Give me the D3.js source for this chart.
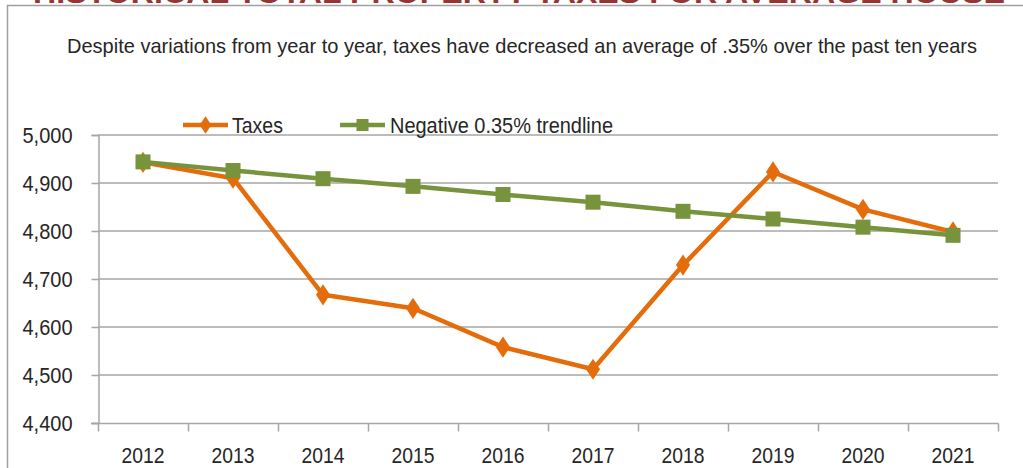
<!DOCTYPE html>
<html>
<head>
<meta charset="utf-8">
<script src="https://cdn.jsdelivr.net/npm/d3@7/dist/d3.min.js"></script>
<style>
  html, body { margin: 0; padding: 0; background: #ffffff; }
  svg { display: block; }
  text { font-family: "Liberation Sans", Arial, sans-serif; fill: #262626; }
</style>
</head>
<body>
<svg id="chart" width="1023" height="468"></svg>
<script>
// Chart data
const years = ["2012", "2013", "2014", "2015", "2016", "2017", "2018", "2019", "2020", "2021"];
const taxes = [4943, 4910, 4667, 4639, 4558, 4512, 4729, 4923, 4845, 4798];
const trendline = [4944, 4926, 4909, 4893, 4876, 4860, 4841, 4825, 4808, 4791];
const yTicks = [4400, 4500, 4600, 4700, 4800, 4900, 5000];
const seriesNames = ["Taxes", "Negative 0.35% trendline"];
const titleText = "HISTORICAL TOTAL PROPERTY TAXES FOR AVERAGE HOUSE";
const subtitleText = "Despite variations from year to year, taxes have decreased an average of .35% over the past ten years";

const orange = "#E46C0A";
const green = "#77933C";
const gridColor = "#a6a6a6";

const svg = d3.select("#chart");

// Banner title (sits above the chart frame)
svg.append("text")
  .attr("x", 33).attr("y", 3)
  .attr("textLength", 972).attr("lengthAdjust", "spacingAndGlyphs")
  .style("font-size", "30px").style("font-weight", "bold").style("fill", "#943634")
  .text(titleText);

// Chart frame
svg.append("path")
  .attr("d", "M7.5,468 V5.5 H1023")
  .attr("fill", "none").attr("stroke", "#a0a0a0").attr("stroke-width", 1.5);

// Subtitle (condensed to the frame width)
svg.append("text")
  .attr("x", 67).attr("y", 53)
  .attr("textLength", 910).attr("lengthAdjust", "spacingAndGlyphs")
  .style("font-size", "21px")
  .text(subtitleText);

// Scales
const x = d3.scaleBand().domain(years).range([98, 998]).padding(0);
const y = d3.scaleLinear().domain([4400, 5000]).range([423, 135]);
const cx = d => x(d) + x.bandwidth() / 2;

// Gridlines
svg.append("g")
  .selectAll("line")
  .data(yTicks.filter(t => t !== 4400))
  .join("line")
  .attr("x1", 98).attr("x2", 998)
  .attr("y1", d => y(d)).attr("y2", d => y(d))
  .attr("stroke", gridColor).attr("stroke-width", 1.5);

// Y axis
const yAxis = svg.append("g")
  .attr("transform", "translate(98.5,0)")
  .call(d3.axisLeft(y).tickValues(yTicks).tickFormat(d3.format(",")).tickSize(7).tickPadding(19));
yAxis.select(".domain").attr("stroke", gridColor).attr("stroke-width", 1.5);
yAxis.selectAll(".tick line").attr("stroke", gridColor).attr("stroke-width", 1.5);
yAxis.selectAll(".tick text")
  .style("font-size", "22px").style("font-family", "'Liberation Sans', sans-serif")
  .attr("textLength", 50).attr("lengthAdjust", "spacingAndGlyphs")
  .attr("fill", "#262626").attr("dy", "0.36em");

// X axis with ticks at category boundaries
const xAxisG = svg.append("g").attr("transform", "translate(0,423.5)");
xAxisG.append("line")
  .attr("x1", 91).attr("x2", 998.5)
  .attr("stroke", gridColor).attr("stroke-width", 1.5);
xAxisG.selectAll("line.tick")
  .data(years.map(d => x(d)).concat([x.range()[1]]))
  .join("line").attr("class", "tick")
  .attr("x1", d => d + 0.5).attr("x2", d => d + 0.5)
  .attr("y1", 0).attr("y2", 8)
  .attr("stroke", gridColor).attr("stroke-width", 1.5);
xAxisG.selectAll("text")
  .data(years)
  .join("text")
  .attr("x", d => cx(d)).attr("y", 39)
  .attr("text-anchor", "middle")
  .attr("textLength", 43).attr("lengthAdjust", "spacingAndGlyphs")
  .style("font-size", "22px")
  .text(d => d);

// Lines
const line = d3.line().x((d, i) => cx(years[i])).y(d => y(d));

svg.append("path").datum(taxes)
  .attr("d", line).attr("fill", "none")
  .attr("stroke", orange).attr("stroke-width", 4.5).attr("stroke-linejoin", "round");

svg.append("g").selectAll("path")
  .data(taxes)
  .join("path")
  .attr("d", d3.symbol(d3.symbolDiamond, 130))
  .attr("transform", (d, i) => `translate(${cx(years[i])},${y(d)}) scale(1.15,1)`)
  .attr("fill", orange);

svg.append("path").datum(trendline)
  .attr("d", line).attr("fill", "none")
  .attr("stroke", green).attr("stroke-width", 4.5).attr("stroke-linejoin", "round");

svg.append("g").selectAll("rect")
  .data(trendline)
  .join("rect")
  .attr("x", (d, i) => cx(years[i]) - 7.5).attr("y", d => y(d) - 7.5)
  .attr("width", 15).attr("height", 15)
  .attr("fill", green);

// Legend
const legend = svg.append("g");
const legendItems = [
  { name: seriesNames[0], color: orange, x0: 183, shape: "diamond", tx: 232, w: 51 },
  { name: seriesNames[1], color: green, x0: 340, shape: "square", tx: 390, w: 223 }
];
legendItems.forEach(it => {
  legend.append("line")
    .attr("x1", it.x0).attr("x2", it.x0 + 45)
    .attr("y1", 125).attr("y2", 125)
    .attr("stroke", it.color).attr("stroke-width", 4.5);
  if (it.shape === "diamond") {
    legend.append("path")
      .attr("d", d3.symbol(d3.symbolDiamond, 90))
      .attr("transform", `translate(${it.x0 + 22.5},125) scale(1.15,1)`)
      .attr("fill", it.color);
  } else {
    legend.append("rect")
      .attr("x", it.x0 + 22.5 - 6).attr("y", 125 - 6)
      .attr("width", 12).attr("height", 12)
      .attr("fill", it.color);
  }
  legend.append("text")
    .attr("x", it.tx).attr("y", 133)
    .attr("textLength", it.w).attr("lengthAdjust", "spacingAndGlyphs")
    .style("font-size", "22px")
    .text(it.name);
});
</script>
</body>
</html>
